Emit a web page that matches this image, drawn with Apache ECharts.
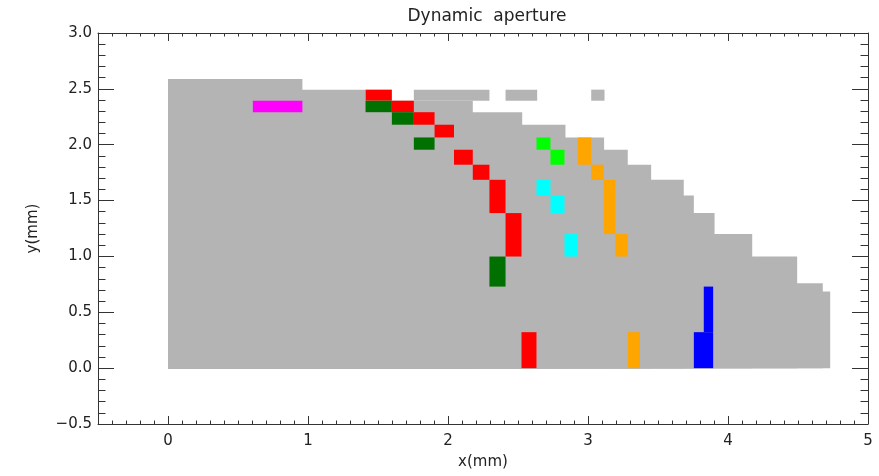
<!DOCTYPE html>
<html>
<head>
<meta charset="utf-8">
<script src="https://cdn.jsdelivr.net/npm/echarts@6/dist/echarts.min.js"></script>
<style>
html,body{margin:0;padding:0;background:#fff;}
#chart{width:879px;height:476px;}
</style>
</head>
<body>
<div id="chart"></div>
<script>
// Tick labels
const xTickValues = [0, 1, 2, 3, 4, 5];
const yTickStep = 0.5;

// Surviving region (gray): stair strips [x0, x1, y0, y1] in mm
const grayRects = [
  [0, 0.960, 0, 2.589],
  [0, 1.411, 0, 2.493],
  [0, 2.177, 0, 2.394],
  [0, 2.530, 0, 2.291],
  [0, 2.839, 0, 2.179],
  [0, 3.115, 0, 2.065],
  [0, 3.284, 0, 1.955],
  [0, 3.451, 0, 1.821],
  [0, 3.684, 0, 1.686],
  [0, 3.756, 0, 1.546],
  [0, 3.904, 0, 1.388],
  [0, 4.173, 0, 1.200],
  [0, 4.494, 0, 0.999],
  [0, 4.677, 0, 0.761],
  [0, 4.730, 0, 0.685],
  // floating pieces on the top row
  [1.756, 2.296, 2.394, 2.493],
  [2.411, 2.637, 2.394, 2.493],
  [3.023, 3.118, 2.394, 2.493]
];

// Resonance cells by colour [x0, x1, y0, y1]
const magentaCells = [
  [0.606, 0.960, 2.291, 2.394]
];
const redCells = [
  [1.411, 1.599, 2.394, 2.493],
  [1.599, 1.756, 2.291, 2.394],
  [1.756, 1.904, 2.179, 2.291],
  [1.904, 2.043, 2.065, 2.179],
  [2.043, 2.177, 1.821, 1.955],
  [2.177, 2.296, 1.686, 1.821],
  [2.296, 2.411, 1.388, 1.686],
  [2.411, 2.525, 0.999, 1.388],
  [2.525, 2.632, 0.000, 0.322]
];
const darkGreenCells = [
  [1.411, 1.599, 2.291, 2.394],
  [1.599, 1.756, 2.179, 2.291],
  [1.756, 1.904, 1.955, 2.065],
  [2.296, 2.411, 0.730, 0.999]
];
const greenCells = [
  [2.632, 2.732, 1.955, 2.065],
  [2.732, 2.832, 1.821, 1.955]
];
const cyanCells = [
  [2.632, 2.732, 1.546, 1.686],
  [2.732, 2.832, 1.388, 1.546],
  [2.832, 2.927, 0.999, 1.200]
];
const orangeCells = [
  [2.927, 3.023, 1.821, 2.065],
  [3.023, 3.113, 1.686, 1.821],
  [3.113, 3.196, 1.200, 1.686],
  [3.196, 3.284, 0.999, 1.200],
  [3.284, 3.371, 0.000, 0.322]
];
const blueCells = [
  [3.756, 3.894, 0.000, 0.322],
  [3.827, 3.894, 0.322, 0.730]
];

const AXIS_COLOR = '#333';
const TEXT_COLOR = '#222';
const FONT = 'DejaVu Sans';

function cellSeries(name, data, color) {
  return {
    name: name,
    type: 'custom',
    xAxisIndex: 0,
    yAxisIndex: 0,
    clip: true,
    silent: true,
    data: data,
    renderItem: function (params, api) {
      const p0 = api.coord([api.value(0), api.value(3)]);
      const p1 = api.coord([api.value(1), api.value(2)]);
      return {
        type: 'rect',
        shape: { x: p0[0], y: p0[1], width: p1[0] - p0[0], height: p1[1] - p0[1] },
        style: { fill: color }
      };
    },
    encode: { x: [0, 1], y: [2, 3] }
  };
}

function xAxisMajor(pos, withLabels) {
  return {
    type: 'value', position: pos, min: -0.5, max: 5, interval: 0.5,
    axisLine: { show: true, onZero: false, lineStyle: { color: AXIS_COLOR, width: 1 } },
    axisTick: { show: true, inside: true, length: 8, customValues: xTickValues, lineStyle: { color: AXIS_COLOR } },
    axisLabel: withLabels ? {
      show: true, customValues: xTickValues, margin: 10,
      color: TEXT_COLOR, fontFamily: FONT, fontSize: 15,
      formatter: function (v) { return String(Math.round(v)); }
    } : { show: false },
    splitLine: { show: false },
    name: withLabels ? 'x(mm)' : '',
    nameLocation: 'middle', nameGap: 31,
    nameTextStyle: { color: TEXT_COLOR, fontFamily: FONT, fontSize: 15 }
  };
}
function xAxisMinor(pos) {
  return {
    type: 'value', position: pos, min: -0.5, max: 5, interval: 0.1,
    axisLine: { show: false, onZero: false },
    axisTick: { show: true, inside: true, length: 3.5, lineStyle: { color: AXIS_COLOR } },
    axisLabel: { show: false },
    splitLine: { show: false }
  };
}
function yAxisDef(pos, withLabels) {
  return {
    type: 'value', position: pos, min: -0.5, max: 3.0, interval: yTickStep,
    axisLine: { show: true, onZero: false, lineStyle: { color: AXIS_COLOR, width: 1 } },
    axisTick: { show: true, inside: true, length: 16, lineStyle: { color: AXIS_COLOR } },
    minorTick: { show: true, splitNumber: 5, length: 7.5, lineStyle: { color: AXIS_COLOR } },
    axisLabel: withLabels ? {
      show: true, margin: 6, color: TEXT_COLOR, fontFamily: FONT, fontSize: 15,
      formatter: function (v) { return (v < 0 ? '\u2212' : '') + Math.abs(v).toFixed(1); }
    } : { show: false },
    splitLine: { show: false },
    minorSplitLine: { show: false },
    name: withLabels ? 'y(mm)' : '',
    nameLocation: 'middle', nameGap: 57,
    nameTextStyle: { color: TEXT_COLOR, fontFamily: FONT, fontSize: 15 }
  };
}

const chart = echarts.init(document.getElementById('chart'), null, { renderer: 'canvas' });
chart.setOption({
  animation: false,
  backgroundColor: '#fff',
  title: {
    text: 'Dynamic  aperture',
    left: 482, top: 3, textAlign: 'center',
    textStyle: { color: TEXT_COLOR, fontFamily: FONT, fontSize: 17, fontWeight: 'normal' }
  },
  grid: { left: 98, right: 11, top: 33, bottom: 52, containLabel: false },
  xAxis: [xAxisMajor('bottom', true), xAxisMinor('bottom'), xAxisMajor('top', false), xAxisMinor('top')],
  yAxis: [yAxisDef('left', true), yAxisDef('right', false)],
  series: [
    cellSeries('survived', grayRects, '#b4b4b4'),
    cellSeries('magenta', magentaCells, '#ff00ff'),
    cellSeries('red', redCells, '#ff0000'),
    cellSeries('darkgreen', darkGreenCells, '#007000'),
    cellSeries('green', greenCells, '#00ff00'),
    cellSeries('cyan', cyanCells, '#00ffff'),
    cellSeries('orange', orangeCells, '#ffa500'),
    cellSeries('blue', blueCells, '#0000ff')
  ]
});
</script>
</body>
</html>
